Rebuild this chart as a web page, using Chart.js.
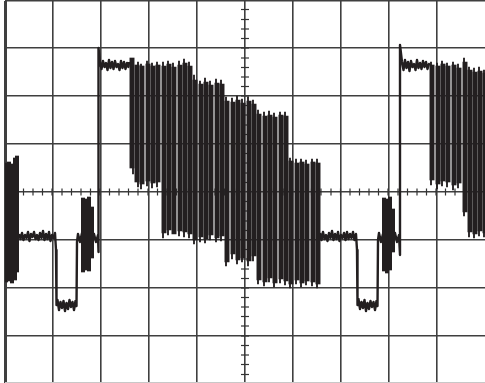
<!DOCTYPE html>
<html>
<head>
<meta charset="utf-8">
<script src="https://cdn.jsdelivr.net/npm/chart.js@4"></script>
<style>
  html, body { margin: 0; background: #fff; }
  canvas { display: block; }
</style>
</head>
<body>
<canvas id="scope" width="485" height="383"></canvas>
<script>
// graticule
const gridX = [-240, -192, -144, -96, -48, 0, 48, 96, 144, 192];
const gridY = [191, 144, 96, 48, 0, -48, -96, -144, -191];
const minorX = [-231, -221.5, -212, -202.5, -193, -183, -173.5, -164, -154.5, -145, -135.5, -126, -116.5, -107, -97, -87.5, -78, -68.5, -58.5, -49, -39.5, -30, -20.5, -10.5, 10, 19, 28.5, 38, 47.5, 57, 66.5, 76, 86, 95.5, 105, 114.5, 124, 133.5, 143, 153, 162.5, 172, 181.5, 191, 200.5, 210, 220, 229.5];
const minorY = [182.5, 172.5, 163, 153.5, 144, 134, 124.5, 115, 105.5, 96, 86.5, 77, 67, 57.5, 48, 38.5, 29, 19, 9.5, -9.5, -19, -29, -38.5, -48, -57.5, -67, -77, -86.5, -96, -105.5, -115, -124.5, -134, -144, -153.5, -163, -172.5, -182.5];

// modulated pulses, top and bottom of each
const pulseX = [-113, -108, -103, -97, -92, -87, -81, -76, -71, -65, -60, -55, -50, -44, -39, -34, -28, -23, -18, -12, -7, -2, 4, 9, 14, 20, 25, 30, 36, 41, 46, 52, 57, 62, 68, 73, 187, 193, 198, 203, 209, 214, 220, 225, 230, 235, 240];
const pulseTop = [134, 127, 126, 128, 126, 127, 126, 128, 125, 127, 129, 126, 112, 108, 110, 107, 109, 108, 91, 90, 92, 89, 91, 88, 78, 76, 77, 75, 77, 76, 31, 29, 30, 28, 30, 29, 127, 126, 128, 126, 127, 124, 130, 122, 120, 121, 119];
const pulseBottom = [24, 10, 8, 11, 9, 10, -41, -38, -42, -39, -40, -42, -48, -45, -47, -43, -46, -44, -70, -62, -68, -66, -69, -64, -88, -90, -86, -91, -87, -89, -92, -88, -91, -89, -90, -92, 12, 8, 11, 10, 7, 9, -20, -40, -42, -39, -41];

// the single stroke that sticks out of each pulse
const tipX = [-112, -107, -104, -98, -93, -88, -82, -77, -72, -66, -61, -56, -51, -45, -40, -35, -29, -24, -19, -13, -8, -3, 3, 8, 13, 19, 24, 29, 35, 40, 45, 51, 56, 61, 67, 72, 186, 192, 197, 202, 208, 213, 219, 224, 229, 234, 239];
const tipTop = [128, 130, 128, 131, 129, 130, 130, 131, 129, 131, 133, 130, 117, 111, 114, 111, 113, 112, 95, 94, 96, 93, 95, 92, 82, 80, 81, 79, 80, 80, 34, 33, 33, 32, 33, 33, 130, 129, 131, 129, 130, 128, 134, 125, 124, 125, 122];
const tipBottom = [18, 5, 3, 6, 4, 5, -46, -43, -36, -44, -45, -46, -52, -50, -51, -48, -50, -49, -74, -67, -72, -70, -74, -69, -92, -94, -90, -95, -91, -93, -96, -92, -95, -93, -94, -96, 7, 3, 6, 5, 2, 4, -24, -45, -46, -44, -45];

// short bursts, no gaps between the pulses
const burstX = [-239, -236, -233, -230, -228, -162, -159, -156, -153, 139, 142, 145, 148];
const burstTop = [29, 30, 28, 34, 36, -6, -7, -5, -15, -6, -7, -5, -17];
const burstBottom = [-90, -89, -91, -88, -80, -80, -78, -79, -66, -79, -81, -78, -60];

// flat parts of the trace and their edges
const traceX = [-226, -224.5, -223, -221.5, -220, -218.5, -217, -215.5, -214, -212.5, -211, -209.5, -208, -206.5, -205, -203.5, -202, -200.5, -199, -197.5, -196, -194.5, -193, -191.5, -190, -189, -188.5, -187.5, -186, -184.5, -183, -181.5, -180, -178.5, -177, -175.5, -174, -172.5, -171, -169.5, -168.5, -168, -167, -165, -163, -161, -159, -157, -155, -153, -151, -149, -147, -146.5, -146.5, -145, -143.5, -142, -140.5, -139, -137.5, -136, -134.5, -133, -131.5, -130, -128.5, -127, -125.5, -124, -122.5, -121, -119.5, -118, -116.5, -116, 75, 76.5, 78, 79.5, 81, 82.5, 84, 85.5, 87, 88.5, 90, 91.5, 93, 94.5, 96, 97.5, 99, 100.5, 102, 103.5, 105, 106.5, 108, 109.5, 111, 112, 112.5, 113.5, 115, 116.5, 118, 119.5, 121, 122.5, 124, 125.5, 127, 128.5, 130, 131.5, 132.5, 133, 134, 136, 138, 140, 142, 144, 146, 148, 150, 152, 154, 155, 155, 157, 158.5, 160, 161.5, 163, 164.5, 166, 167.5, 169, 170.5, 172, 173.5, 175, 176.5, 178, 179.5, 181, 182.5, 184, 185];
const traceY = [-42, -47, -41, -48, -43, -46, -40, -49, -42, -45, -40, -47, -43, -48, -41, -46, -39, -48, -42, -47, -40, -49, -43, -46, -41, -58, -113, -108, -118, -110, -116, -109, -119, -111, -117, -108, -115, -110, -118, -109, -114, -50, -42, -50, -41, -49, -42, -50, -41, -49, -42, -50, -43, -60, 144, 130, 123, 131, 125, 129, 122, 132, 124, 130, 123, 131, 125, 128, 122, 131, 124, 130, 123, 129, 125, 130, -41, -48, -40, -47, -43, -49, -41, -46, -39, -48, -42, -47, -40, -49, -43, -46, -41, -48, -40, -47, -42, -46, -40, -48, -42, -58, -113, -107, -117, -110, -116, -108, -119, -111, -117, -109, -115, -110, -118, -109, -114, -48, -41, -50, -42, -49, -41, -50, -42, -49, -41, -50, -43, -63, 147, 130, 122, 132, 124, 130, 121, 131, 125, 128, 122, 132, 124, 129, 123, 131, 125, 130, 123, 128, 127];
const traceBreaks = [-116, 185];

const ink = '#231f20';
const toBars = (xs, tops, bottoms) => xs.map((x, i) => ({ x: x, y: [bottoms[i], tops[i]] }));

const tracePoints = [];
traceX.forEach((x, i) => {
  tracePoints.push({ x: x, y: traceY[i] });
  if (traceBreaks.includes(x)) tracePoints.push({ x: x, y: null });
});

new Chart(document.getElementById('scope'), {
  type: 'bar',
  data: {
    datasets: [
      { data: toBars(pulseX, pulseTop, pulseBottom), backgroundColor: ink, barThickness: 4.3 },
      { data: toBars(tipX, tipTop, tipBottom), backgroundColor: ink, barThickness: 1.2 },
      { data: toBars(burstX, burstTop, burstBottom), backgroundColor: ink, barThickness: 3.4 },
      { type: 'line', data: tracePoints, borderColor: ink, borderWidth: 2.4, borderJoinStyle: 'round', pointRadius: 0, tension: 0, spanGaps: false },
      { type: 'scatter', data: minorX.map(x => ({ x: x, y: 0 })), pointStyle: 'line', rotation: 90, radius: 3.5, borderColor: '#333', borderWidth: 1.2, backgroundColor: '#333' },
      { type: 'scatter', data: minorY.map(y => ({ x: 0, y: y })), pointStyle: 'line', radius: 4, borderColor: '#333', borderWidth: 1.2, backgroundColor: '#333' }
    ]
  },
  options: {
    responsive: false,
    animation: false,
    grouped: false,
    layout: { autoPadding: false, padding: { left: 5, top: 1, right: 0, bottom: 0 } },
    plugins: { legend: { display: false }, tooltip: { enabled: false } },
    scales: {
      x: {
        type: 'linear', min: -240, max: 240, offset: false,
        afterBuildTicks: axis => { axis.ticks = gridX.map(v => ({ value: v })); },
        ticks: { display: false },
        border: { display: false },
        grid: { offset: false, color: '#3f3f3f', lineWidth: c => (c.tick && c.tick.value === -240) ? 3 : 1.6, drawTicks: false }
      },
      y: {
        min: -191, max: 191,
        afterBuildTicks: axis => { axis.ticks = gridY.map(v => ({ value: v })); },
        ticks: { display: false },
        border: { display: false },
        grid: { color: c => (c.tick && c.tick.value === -191) ? '#c8c8c8' : '#3f3f3f', lineWidth: 1.6, drawTicks: false }
      }
    }
  }
});
</script>
</body>
</html>
